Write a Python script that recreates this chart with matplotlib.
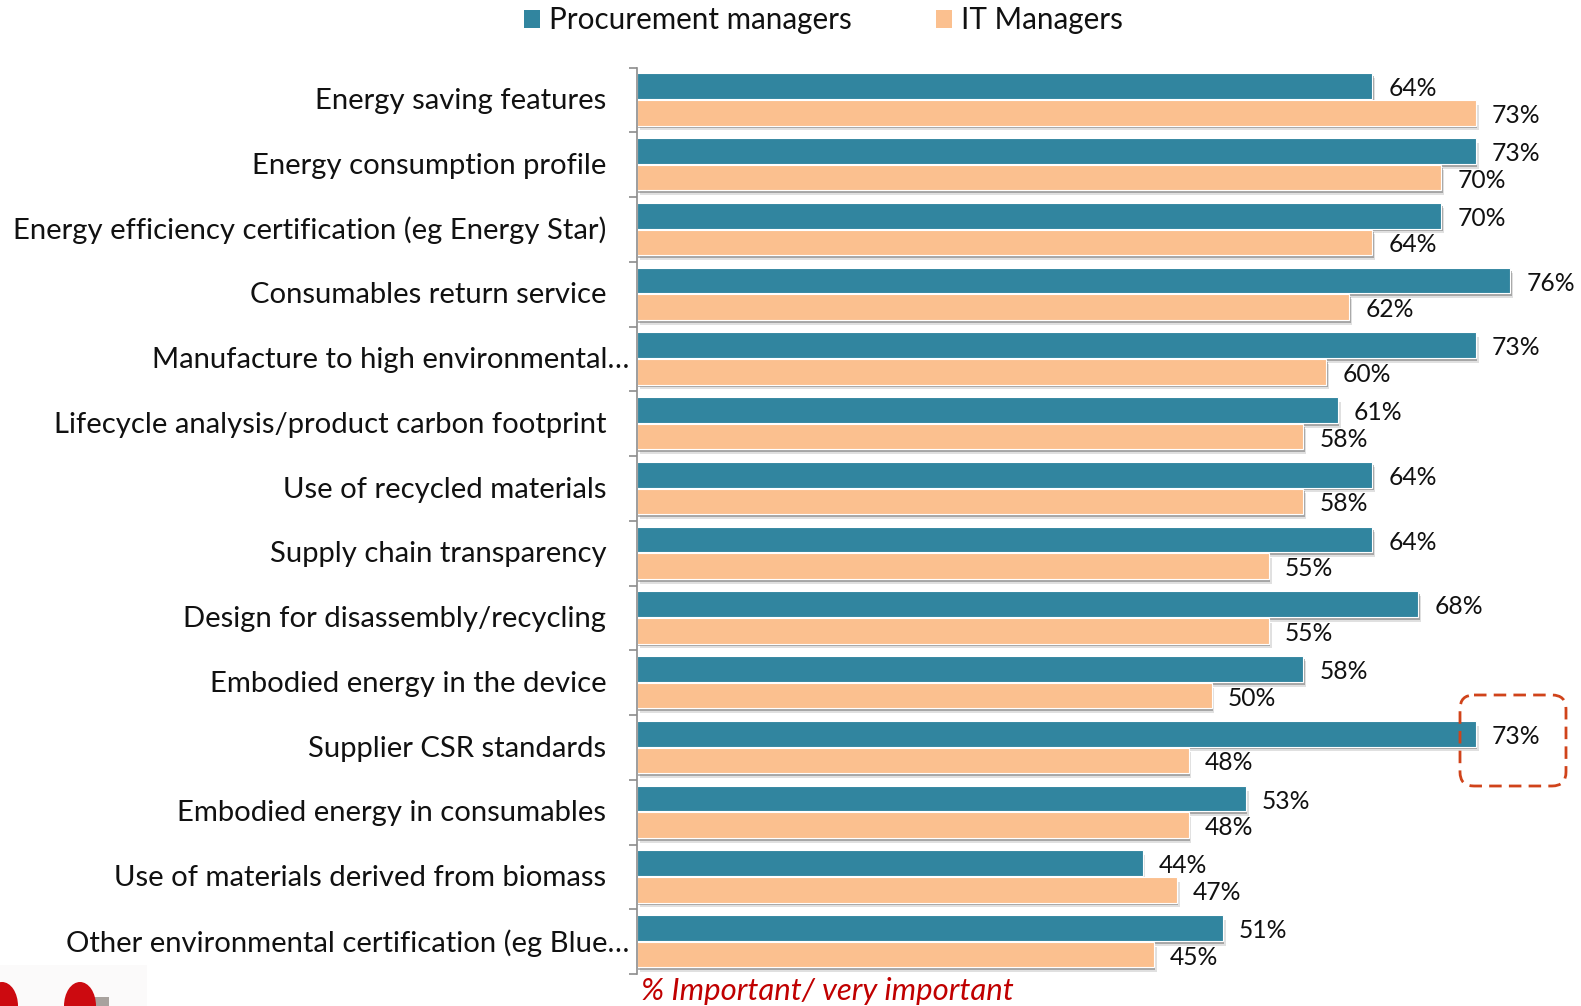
import matplotlib
matplotlib.use("Agg")
import matplotlib.pyplot as plt
import matplotlib.patheffects as pe
from matplotlib.patches import FancyBboxPatch, Ellipse, Rectangle, Patch
from matplotlib.transforms import Affine2D, ScaledTranslation

plt.rcParams['font.family'] = ['Lato', 'DejaVu Sans']

# -------------------------------------------
# Data
# -------------------------------------------
categories = [
    "Energy saving features",
    "Energy consumption profile",
    "Energy efficiency certification (eg Energy Star)",
    "Consumables return service",
    "Manufacture to high environmental…",
    "Lifecycle analysis/product carbon footprint",
    "Use of recycled materials",
    "Supply chain transparency",
    "Design for disassembly/recycling",
    "Embodied energy in the device",
    "Supplier CSR standards",
    "Embodied energy in consumables",
    "Use of materials derived from biomass",
    "Other environmental certification (eg Blue…",
]
procurement = [64, 73, 70, 76, 73, 61, 64, 64, 68, 58, 73, 53, 44, 51]
it_managers = [73, 70, 64, 62, 60, 58, 58, 55, 55, 50, 48, 48, 47, 45]

TEAL = "#31859F"
PEACH = "#FBC08F"
FONT = 21.1
VALUE_FONT = 17.7

W, H = 1581, 1006
fig = plt.figure(figsize=(W / 100, H / 100), dpi=100)

# axes placed in pixels so bars line up with the reference
left, right, top, bottom = 637, 1581, 67.5, 974
ax = fig.add_axes([left / W, 1 - bottom / H, (right - left) / W, (bottom - top) / H])
px_per_pct = 11.49
ax.set_xlim(0, (right - left) / px_per_pct)
ax.set_ylim(len(categories), 0)

# pixels from the top left corner of the figure
px = Affine2D().scale(1, -1).translate(0, H)

shadow = [pe.SimplePatchShadow(offset=(2, -3.5), shadow_rgbFace="#999999", alpha=0.3),
          pe.SimplePatchShadow(offset=(1, -2), shadow_rgbFace="#777777", alpha=0.55),
          pe.Normal()]
bar_h = 0.395
centers = [i + 0.5 for i in range(len(categories))]
teal_y = [c - 0.21 for c in centers]
peach_y = [c + 0.2 for c in centers]
bars1 = ax.barh(teal_y, procurement, height=bar_h, color=TEAL, edgecolor="white",
                linewidth=0.8)
bars2 = ax.barh(peach_y, it_managers, height=bar_h, color=PEACH, edgecolor="white",
                linewidth=0.8)
for b in list(bars1) + list(bars2):
    b.set_path_effects(shadow)

for y, v in zip(teal_y, procurement):
    ax.annotate(f"{v}%", (v, y), xytext=(11.5, -1.8), textcoords="offset points",
                va="center", ha="left", fontsize=VALUE_FONT, color="#111111")
for y, v in zip(peach_y, it_managers):
    ax.annotate(f"{v}%", (v, y), xytext=(11.5, -1.8), textcoords="offset points",
                va="center", ha="left", fontsize=VALUE_FONT, color="#111111")

# axis: ticks between the categories, labels centred on each group
for s in ("top", "right", "bottom"):
    ax.spines[s].set_visible(False)
ax.spines["left"].set_color("#8C8C8C")
ax.spines["left"].set_linewidth(1.2)
ax.set_xticks([])
ax.set_yticks(centers)
ax.set_yticklabels(categories, fontsize=FONT, color="#111111", va="center")
ax.tick_params(axis="y", which="major", length=0)
ax.set_yticks(range(len(categories) + 1), minor=True)
ax.tick_params(axis="y", which="minor", length=6, width=1.2, color="#8C8C8C")
nudge = ScaledTranslation(0, -1.2 / 100, fig.dpi_scale_trans)
for tick, name in zip(ax.yaxis.get_major_ticks(), categories):
    tick.set_pad(5.5 if name.endswith("…") else 22)
    tick.label1.set_transform(tick.label1.get_transform() + nudge)

handles = [Patch(facecolor=TEAL, label="Procurement managers"),
           Patch(facecolor=PEACH, label="IT Managers")]
fig.legend(handles=handles, loc="upper left", bbox_to_anchor=(518 / W, 1 - 0.5 / H),
           ncol=2, frameon=False, fontsize=21.3, handlelength=0.55, handleheight=0.55,
           handletextpad=0.3, columnspacing=2.85, labelcolor="#111111",
           borderpad=0.2, borderaxespad=0)

fig.text(641 / W, 1 - 991 / H, "% Important/ very important", style="italic",
         fontsize=22.4, color="#C00000", va="center", ha="left")

# dashed highlight round the Supplier CSR value
fig.add_artist(FancyBboxPatch((1472, 707), 82, 67, boxstyle="round,pad=12,rounding_size=14",
                              fill=False, edgecolor="#D0431A", linewidth=2,
                              linestyle=(0, (4.5, 2.6)), transform=px, zorder=5))

# cropped logo in the bottom left corner
fig.add_artist(Rectangle((0, 965), 147, 41, facecolor="#FBFAFA", edgecolor="none",
                         transform=px, zorder=0))
fig.add_artist(Ellipse((2, 1006), 32, 48, facecolor="#CC0A10", edgecolor="none",
                       transform=px, zorder=1))
fig.add_artist(Rectangle((92, 997), 17, 9, facecolor="#A8A29E", edgecolor="none",
                         transform=px, zorder=1))
fig.add_artist(Ellipse((80, 1006), 32, 48, facecolor="#CC0A10", edgecolor="none",
                       transform=px, zorder=2))

fig.savefig("out.png", dpi=100)
